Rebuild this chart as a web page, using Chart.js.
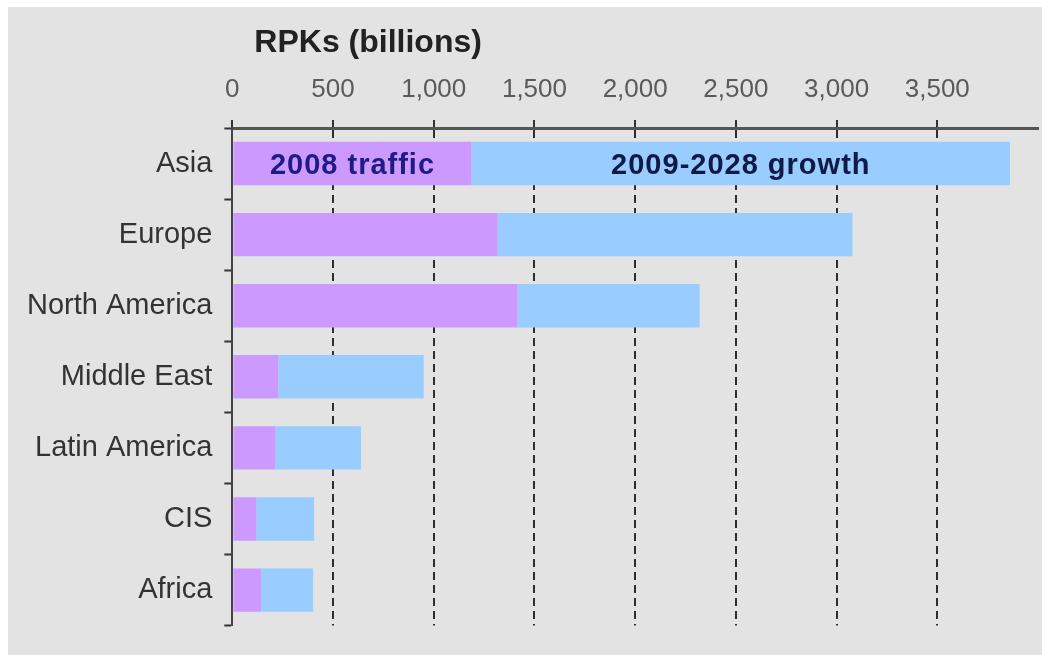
<!DOCTYPE html>
<html>
<head>
<meta charset="utf-8">
<script src="https://cdn.jsdelivr.net/npm/chart.js@4/dist/chart.umd.min.js"></script>
<style>
  html, body { margin: 0; padding: 0; background: #ffffff; }
  #wrap { position: absolute; left: 8px; top: 7px; width: 1034px; height: 648px; background: #e3e3e3; }
  canvas { display: block; }
</style>
</head>
<body>
<div id="wrap"><canvas id="c"></canvas></div>
<script>
const categories = ['Asia', 'Europe', 'North America', 'Middle East', 'Latin America', 'CIS', 'Africa'];
const traffic2008 = [1188, 1317, 1416, 228, 213, 119, 144];
const growth20092028 = [2673, 1762, 904, 722, 426, 287, 257];
const seriesLabels = ['2008 traffic', '2009-2028 growth'];
const axisTitle = 'RPKs (billions)';
const axisMin = 0, axisMax = 4000, axisStep = 500;

const titlePlugin = {
  id: 'sideTitle',
  afterDraw(chart) {
    const ctx = chart.ctx, a = chart.chartArea;
    ctx.save();
    ctx.font = 'bold 32px "Liberation Sans", Arial, sans-serif';
    ctx.fillStyle = '#222222';
    ctx.textAlign = 'left';
    ctx.textBaseline = 'alphabetic';
    ctx.fillText(axisTitle, a.left + 22, 45);
    ctx.restore();
  }
};

const barLabelPlugin = {
  id: 'barLabels',
  afterDatasetsDraw(chart) {
    const ctx = chart.ctx;
    const colors = ['#1e1a86', '#0f1a45'];
    chart.data.datasets.forEach((ds, i) => {
      const el = chart.getDatasetMeta(i).data[0];
      if (!el) return;
      const p = el.getProps(['x', 'y', 'base'], true);
      ctx.save();
      ctx.font = 'bold 29px "Liberation Sans", Arial, sans-serif';
      try { ctx.letterSpacing = '1px'; } catch (e) {}
      ctx.fillStyle = colors[i];
      ctx.textAlign = 'center';
      ctx.textBaseline = 'middle';
      ctx.fillText(ds.label, (p.x + p.base) / 2, p.y + 2);
      ctx.restore();
    });
  }
};

new Chart(document.getElementById('c'), {
  type: 'bar',
  data: {
    labels: categories,
    datasets: [
      { label: seriesLabels[0], data: traffic2008, backgroundColor: '#cc99ff', borderWidth: 0 },
      { label: seriesLabels[1], data: growth20092028, backgroundColor: '#99ccff', borderWidth: 0 }
    ]
  },
  options: {
    indexAxis: 'y',
    responsive: true,
    maintainAspectRatio: false,
    animation: false,
    layout: { padding: { top: 53, left: 7, right: 4, bottom: 18 } },
    datasets: { bar: { categoryPercentage: 1, barPercentage: 0.61 } },
    plugins: { legend: { display: false }, tooltip: { enabled: false }, title: { display: false } },
    scales: {
      x: {
        position: 'top',
        stacked: true,
        min: axisMin, max: axisMax,
        ticks: {
          stepSize: axisStep,
          color: '#5a5a5a',
          padding: 0,
          font: { family: '"Liberation Sans", Arial, sans-serif', size: 26, lineHeight: '60px' },
          callback: v => v === axisMax ? '' : Number(v).toLocaleString('en-US')
        },
        grid: {
          drawOnChartArea: true,
          drawTicks: true,
          tickLength: 8,
          lineWidth: 2,
          tickWidth: 2,
          color: c => (c.tick && (c.tick.value === axisMin || c.tick.value === axisMax)) ? 'rgba(0,0,0,0)' : '#2e2e2e',
          tickColor: c => (c.tick && c.tick.value === axisMax) ? 'rgba(0,0,0,0)' : '#333333'
        },
        border: { display: true, color: '#555555', width: 3, dash: [8, 5] }
      },
      y: {
        stacked: true,
        ticks: {
          color: '#333333',
          padding: 12,
          font: { family: '"Liberation Sans", Arial, sans-serif', size: 29 }
        },
        grid: {
          offset: true,
          drawOnChartArea: false,
          drawTicks: true,
          tickLength: 8,
          tickWidth: 2,
          tickColor: '#333333'
        },
        border: { display: true, color: '#444444', width: 2 }
      }
    }
  },
  plugins: [titlePlugin, barLabelPlugin]
});
</script>
</body>
</html>
